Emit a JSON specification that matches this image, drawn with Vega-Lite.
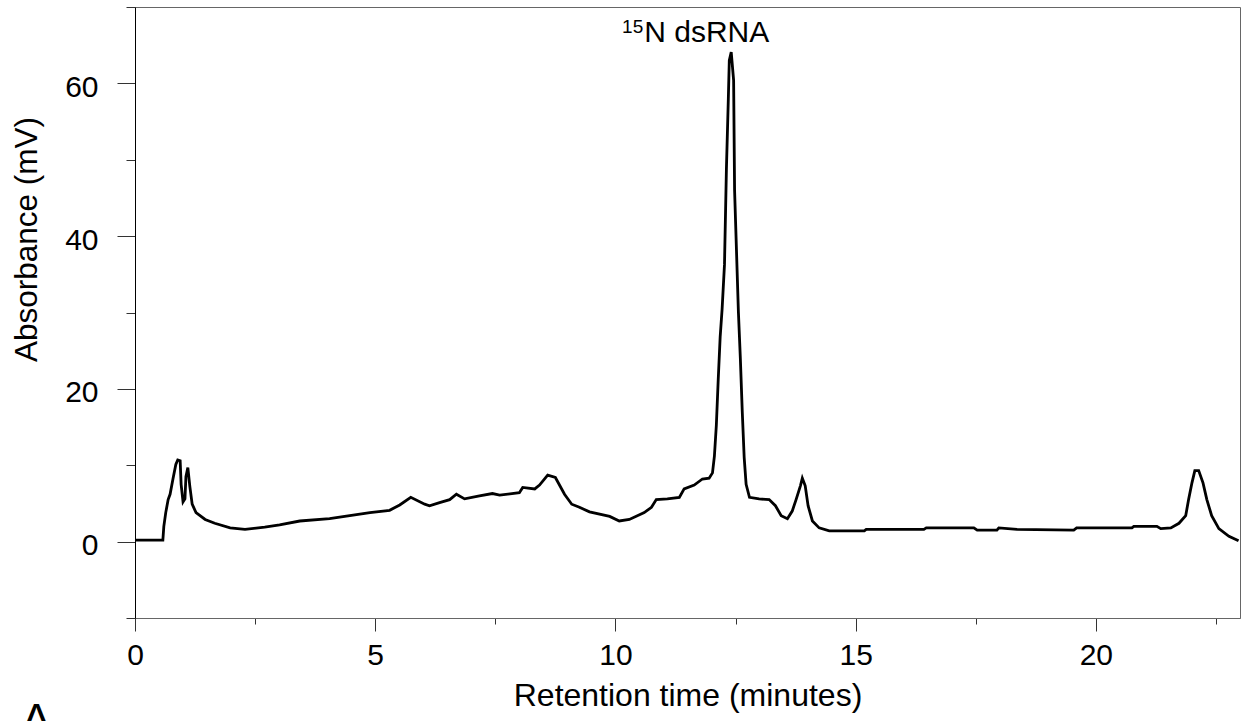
{
  "$schema": "https://vega.github.io/schema/vega-lite/v6.json",
  "width": 1105,
  "height": 611,
  "autosize": {"type": "none"},
  "padding": {"left": 135, "top": 7, "right": 9, "bottom": 103},
  "background": "white",
  "config": {
    "view": {"stroke": "#666666", "strokeWidth": 1},
    "font": "Liberation Sans"
  },
  "title": {
    "text": "A",
    "orient": "bottom",
    "anchor": "start",
    "frame": "group",
    "font": "Liberation Sans",
    "fontSize": 46,
    "fontWeight": "normal",
    "color": "black",
    "dx": -114,
    "offset": -11
  },
  "datasets": {
    "trace": [
      {"time": 0, "absorbance": 0.2},
      {"time": 0.58, "absorbance": 0.2},
      {"time": 0.6, "absorbance": 2.0},
      {"time": 0.64, "absorbance": 3.8},
      {"time": 0.69, "absorbance": 5.5},
      {"time": 0.73, "absorbance": 6.2},
      {"time": 0.79, "absorbance": 8.2},
      {"time": 0.85, "absorbance": 10.1},
      {"time": 0.89, "absorbance": 10.7},
      {"time": 0.94, "absorbance": 10.6},
      {"time": 0.96, "absorbance": 7.5},
      {"time": 1.0, "absorbance": 5.2},
      {"time": 1.04, "absorbance": 5.6},
      {"time": 1.06, "absorbance": 8.5},
      {"time": 1.1, "absorbance": 9.7},
      {"time": 1.14, "absorbance": 7.3},
      {"time": 1.19, "absorbance": 4.9},
      {"time": 1.27, "absorbance": 3.8},
      {"time": 1.46, "absorbance": 2.9},
      {"time": 1.66, "absorbance": 2.4},
      {"time": 1.98, "absorbance": 1.8},
      {"time": 2.29, "absorbance": 1.6},
      {"time": 2.7, "absorbance": 1.9},
      {"time": 3.01, "absorbance": 2.2},
      {"time": 3.43, "absorbance": 2.7},
      {"time": 4.05, "absorbance": 3.0},
      {"time": 4.47, "absorbance": 3.4},
      {"time": 4.89, "absorbance": 3.8},
      {"time": 5.3, "absorbance": 4.1},
      {"time": 5.51, "absorbance": 4.8},
      {"time": 5.74, "absorbance": 5.8},
      {"time": 6.03, "absorbance": 4.9},
      {"time": 6.13, "absorbance": 4.7},
      {"time": 6.34, "absorbance": 5.1},
      {"time": 6.55, "absorbance": 5.5},
      {"time": 6.69, "absorbance": 6.2},
      {"time": 6.86, "absorbance": 5.6},
      {"time": 7.17, "absorbance": 6.0},
      {"time": 7.44, "absorbance": 6.3},
      {"time": 7.59, "absorbance": 6.1},
      {"time": 8.0, "absorbance": 6.4},
      {"time": 8.07, "absorbance": 7.1},
      {"time": 8.32, "absorbance": 6.9},
      {"time": 8.42, "absorbance": 7.4},
      {"time": 8.59, "absorbance": 8.7},
      {"time": 8.75, "absorbance": 8.4},
      {"time": 8.94, "absorbance": 6.2},
      {"time": 9.09, "absorbance": 4.9},
      {"time": 9.25, "absorbance": 4.5},
      {"time": 9.46, "absorbance": 3.9},
      {"time": 9.88, "absorbance": 3.3},
      {"time": 10.08, "absorbance": 2.7},
      {"time": 10.29, "absorbance": 2.9},
      {"time": 10.6, "absorbance": 3.8},
      {"time": 10.75, "absorbance": 4.5},
      {"time": 10.85, "absorbance": 5.5},
      {"time": 11.08, "absorbance": 5.6},
      {"time": 11.33, "absorbance": 5.8},
      {"time": 11.43, "absorbance": 6.9},
      {"time": 11.64, "absorbance": 7.4},
      {"time": 11.81, "absorbance": 8.2},
      {"time": 11.95, "absorbance": 8.3},
      {"time": 12.02, "absorbance": 9.0},
      {"time": 12.06, "absorbance": 11.2},
      {"time": 12.1, "absorbance": 15.2},
      {"time": 12.14, "absorbance": 21.3},
      {"time": 12.18, "absorbance": 26.8},
      {"time": 12.22, "absorbance": 30.4},
      {"time": 12.27, "absorbance": 36.3},
      {"time": 12.31, "absorbance": 48.8},
      {"time": 12.35, "absorbance": 58.0},
      {"time": 12.37, "absorbance": 63.0},
      {"time": 12.41, "absorbance": 64.1},
      {"time": 12.46, "absorbance": 60.4},
      {"time": 12.48, "absorbance": 46.0},
      {"time": 12.52, "absorbance": 38.0},
      {"time": 12.56, "absorbance": 30.0},
      {"time": 12.6, "absorbance": 24.0},
      {"time": 12.64, "absorbance": 17.0},
      {"time": 12.68, "absorbance": 11.0},
      {"time": 12.72, "absorbance": 7.5},
      {"time": 12.79, "absorbance": 5.8},
      {"time": 12.99, "absorbance": 5.6},
      {"time": 13.2, "absorbance": 5.5},
      {"time": 13.33, "absorbance": 4.7},
      {"time": 13.45, "absorbance": 3.4},
      {"time": 13.58, "absorbance": 3.0},
      {"time": 13.68, "absorbance": 4.0},
      {"time": 13.76, "absorbance": 5.5},
      {"time": 13.85, "absorbance": 7.3},
      {"time": 13.89, "absorbance": 8.3},
      {"time": 13.95, "absorbance": 7.3},
      {"time": 14.01, "absorbance": 4.7},
      {"time": 14.1, "absorbance": 2.7},
      {"time": 14.24, "absorbance": 1.8},
      {"time": 14.45, "absorbance": 1.4},
      {"time": 15.18, "absorbance": 1.4},
      {"time": 15.22, "absorbance": 1.6},
      {"time": 16.42, "absorbance": 1.6},
      {"time": 16.47, "absorbance": 1.8},
      {"time": 17.46, "absorbance": 1.8},
      {"time": 17.53, "absorbance": 1.5},
      {"time": 17.94, "absorbance": 1.5},
      {"time": 17.98, "absorbance": 1.8},
      {"time": 18.36, "absorbance": 1.6},
      {"time": 19.54, "absorbance": 1.5},
      {"time": 19.6, "absorbance": 1.8},
      {"time": 20.75, "absorbance": 1.8},
      {"time": 20.79, "absorbance": 2.0},
      {"time": 21.27, "absorbance": 2.0},
      {"time": 21.35, "absorbance": 1.7},
      {"time": 21.56, "absorbance": 1.8},
      {"time": 21.73, "absorbance": 2.4},
      {"time": 21.87, "absorbance": 3.4},
      {"time": 21.93, "absorbance": 5.5},
      {"time": 22.0, "absorbance": 7.7},
      {"time": 22.06, "absorbance": 9.3},
      {"time": 22.14, "absorbance": 9.3},
      {"time": 22.23, "absorbance": 7.7},
      {"time": 22.31, "absorbance": 5.5},
      {"time": 22.41, "absorbance": 3.4},
      {"time": 22.56, "absorbance": 1.7},
      {"time": 22.77, "absorbance": 0.7},
      {"time": 22.97, "absorbance": 0.1}
    ],
    "labels": [
      {"time": 10.6, "absorbance": 65.4, "main": "N dsRNA", "sup": "15"}
    ]
  },
  "layer": [
    {
      "data": {"name": "trace"},
      "mark": {"type": "line", "color": "black", "strokeWidth": 2.8, "interpolate": "linear"},
      "encoding": {
        "x": {
          "field": "time",
          "type": "quantitative",
          "scale": {"domain": [0, 23], "nice": false, "zero": false},
          "axis": {
            "title": "Retention time (minutes)",
            "values": [0, 2.5, 5, 7.5, 10, 12.5, 15, 17.5, 20, 22.5],
            "labelExpr": "datum.value % 5 === 0 ? datum.label : ''",
            "grid": false,
            "domainColor": "#666666",
            "tickColor": "#333333",
            "tickSize": {"condition": {"test": "datum.value % 5 === 0", "value": 13}, "value": 6},
            "labelFont": "Liberation Sans",
            "labelFontSize": 30,
            "labelColor": "black",
            "labelPadding": 9,
            "titleFont": "Liberation Sans",
            "titleFontSize": 32,
            "titleFontWeight": "normal",
            "titleColor": "black",
            "titlePadding": 10,
            "labelFlush": false,
            "labelOverlap": false
          }
        },
        "y": {
          "field": "absorbance",
          "type": "quantitative",
          "scale": {"domain": [-10, 70], "nice": false, "zero": false},
          "axis": {
            "title": "Absorbance (mV)",
            "values": [-10, 0, 10, 20, 30, 40, 50, 60, 70],
            "labelExpr": "datum.value % 20 === 0 ? datum.label : ''",
            "grid": false,
            "domainColor": "black",
            "tickColor": "#333333",
            "tickSize": {"condition": {"test": "datum.value % 20 === 0", "value": 18}, "value": 9},
            "labelFont": "Liberation Sans",
            "labelFontSize": 30,
            "labelColor": "black",
            "labelPadding": 19,
            "labelOffset": 4,
            "titleFont": "Liberation Sans",
            "titleFontSize": 31.5,
            "titleFontWeight": "normal",
            "titleColor": "black",
            "titlePadding": 21,
            "titleY": 232,
            "labelFlush": false,
            "labelOverlap": false
          }
        }
      }
    },
    {
      "data": {"name": "labels"},
      "mark": {"type": "text", "align": "left", "baseline": "alphabetic", "font": "Liberation Sans", "fontSize": 30, "color": "black"},
      "encoding": {
        "x": {"field": "time", "type": "quantitative"},
        "y": {"field": "absorbance", "type": "quantitative"},
        "text": {"field": "main"}
      }
    },
    {
      "data": {"name": "labels"},
      "mark": {"type": "text", "align": "right", "baseline": "alphabetic", "font": "Liberation Sans", "fontSize": 19, "color": "black", "dx": -1, "dy": -9},
      "encoding": {
        "x": {"field": "time", "type": "quantitative"},
        "y": {"field": "absorbance", "type": "quantitative"},
        "text": {"field": "sup"}
      }
    }
  ]
}
